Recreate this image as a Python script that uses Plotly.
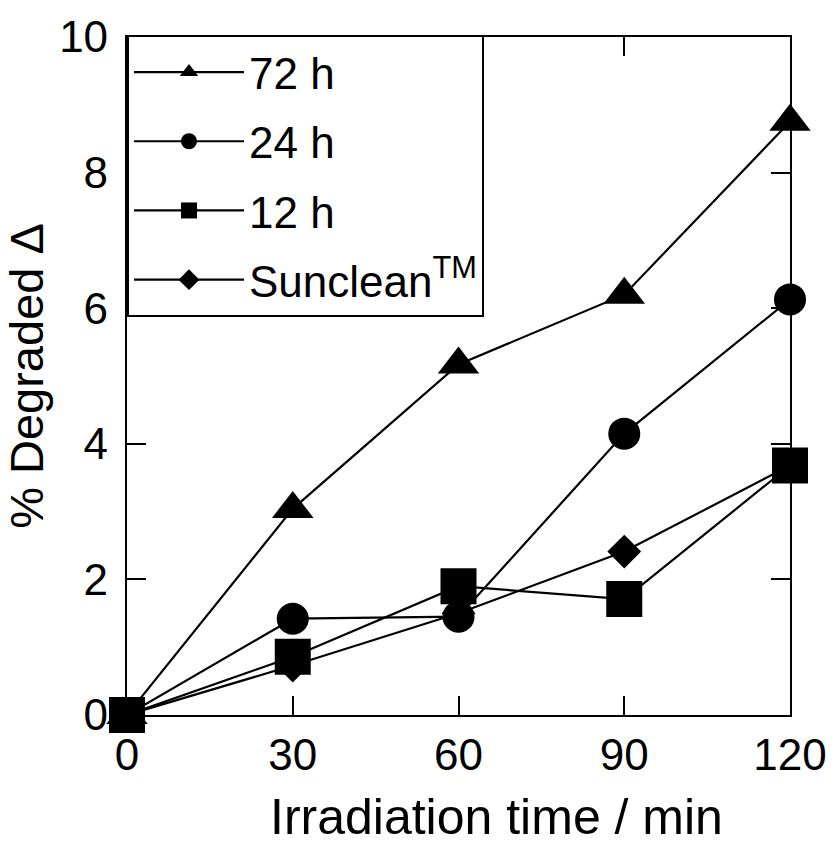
import plotly.graph_objects as go

# Irradiation times (min)
times = [0, 30, 60, 90, 120]

# % degraded for each sample
deg_72h = [0, 3.04, 5.17, 6.2, 8.75]
deg_24h = [0, 1.42, 1.45, 4.15, 6.13]
deg_12h = [0, 0.86, 1.9, 1.71, 3.68]
deg_sunclean = [0, 0.73, 1.5, 2.41, 3.68]

x_ticks = [0, 30, 60, 90, 120]
y_ticks = [0, 2, 4, 6, 8, 10]

FONT = "Liberation Sans Narrow, Arial Narrow, Liberation Sans, Arial, sans-serif"

series = [
    # name, values, symbol, size, legend rank
    ("72 h", deg_72h, "triangle-up", 36, 1),
    ("24 h", deg_24h, "circle", 32, 2),
    ("Sunclean<sup>TM</sup>", deg_sunclean, "diamond", 26, 4),
    ("12 h", deg_12h, "square", 36, 3),
]

fig = go.Figure()
for name, vals, sym, size, rank in series:
    fig.add_trace(go.Scatter(
        x=times, y=vals, name=name, mode="lines+markers",
        line=dict(color="black", width=2.2),
        marker=dict(symbol=sym, size=size, color="black", line=dict(width=0)),
        cliponaxis=False, legendrank=rank, legendgroup=name,
    ))

axis_common = dict(
    showline=True, linecolor="black", linewidth=2.2, mirror="ticks",
    ticks="inside", ticklen=19, tickwidth=1.5, tickcolor="black",
    showgrid=False, zeroline=False, layer="below traces",
    tickfont=dict(family=FONT, size=44, color="black"),
)

fig.update_xaxes(
    range=[0, 120], tickvals=x_ticks, ticktext=[str(v) for v in x_ticks],
    **axis_common,
)
fig.update_yaxes(
    range=[0, 10], tickvals=y_ticks, ticktext=[str(v) for v in y_ticks],
    ticklabelstandoff=8,
    title=dict(text="% Degraded \u0394", font=dict(family=FONT, size=47, color="black"), standoff=14),
    **axis_common,
)

fig.update_layout(
    width=839, height=859,
    margin=dict(l=120, r=47, t=30, b=144),
    plot_bgcolor="white", paper_bgcolor="white",
    showlegend=True,
    legend=dict(
        x=0.0, y=1.003, xanchor="left", yanchor="top",
        bgcolor="white", bordercolor="black", borderwidth=2,
        font=dict(family=FONT, size=44, color="black"),
        itemwidth=110, tracegroupgap=9,
    ),
    annotations=[dict(
        text="Irradiation time / min", xref="paper", yref="paper",
        x=0.558, y=-0.151, xanchor="center", yanchor="middle", showarrow=False,
        font=dict(family=FONT, size=50, color="black"),
    )],
)

fig.write_html("out.html")
